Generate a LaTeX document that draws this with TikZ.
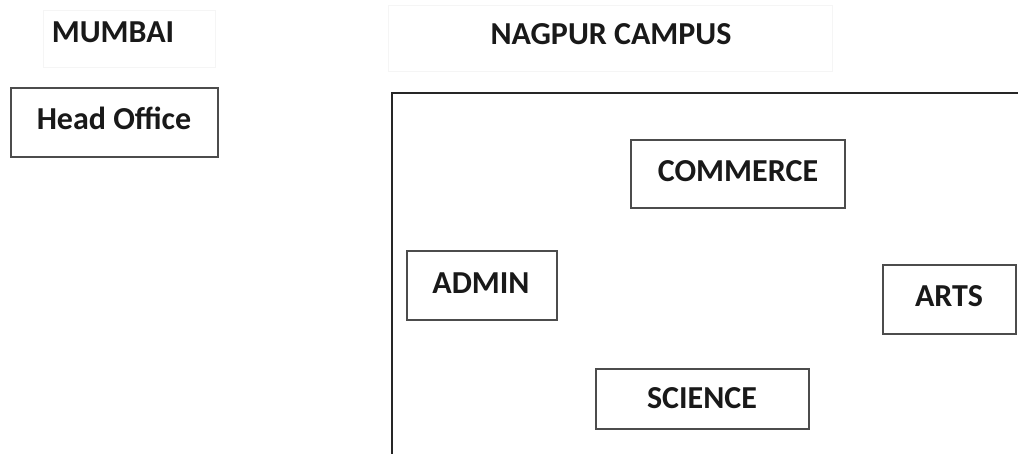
\documentclass[tikz,border=0pt]{standalone}
\usepackage{fontspec}
\setmainfont{Carlito}
\begin{document}
\begin{tikzpicture}[x=1pt,y=-1pt,
  lbl/.style={font=\fontsize{32}{36}\selectfont\bfseries, text=black!90, inner sep=0pt, anchor=base},
  bx/.style={draw=black!70, line width=1.6pt, fill=white, inner sep=0pt, anchor=north west},
  faint/.style={draw=black!4, line width=1pt, inner sep=0pt, anchor=north west},
  campusbox/.style={draw=black!85, line width=2pt, inner sep=0pt, anchor=north west}]
\useasboundingbox (0,0) rectangle (1018,454);
\clip (0,0) rectangle (1018,454);
% faint title frames
\node[faint, minimum width=172pt, minimum height=57pt] (mumf) at (43,10) {};
\node[faint, minimum width=444pt, minimum height=66pt] (nagf) at (388,5) {};
\node[lbl] (mumbai) at (113,42.5) {MUMBAI};
\node[lbl] (nagpur) at (611,44.5) {NAGPUR CAMPUS};
% head office
\node[bx, minimum width=207pt, minimum height=69pt] (ho) at (10,87) {};
\node[lbl] (hot) at (114,129.5) {Head Office};
% campus frame (extends beyond the page)
\node[campusbox, minimum width=680pt, minimum height=420pt] (campus) at (391,92) {};
% buildings
\node[bx, minimum width=214pt, minimum height=68pt] (commerce) at (630,139) {};
\node[lbl] (commercet) at (738,181.5) {COMMERCE};
\node[bx, minimum width=150pt, minimum height=69pt] (admin) at (406,250) {};
\node[lbl] (admint) at (481,293.5) {ADMIN};
\node[bx, minimum width=133pt, minimum height=69pt] (arts) at (882,264) {};
\node[lbl] (artst) at (949,306.5) {ARTS};
\node[bx, minimum width=213pt, minimum height=60pt] (science) at (595,368) {};
\node[lbl] (sciencet) at (702,408.5) {SCIENCE};
\end{tikzpicture}
\end{document}
